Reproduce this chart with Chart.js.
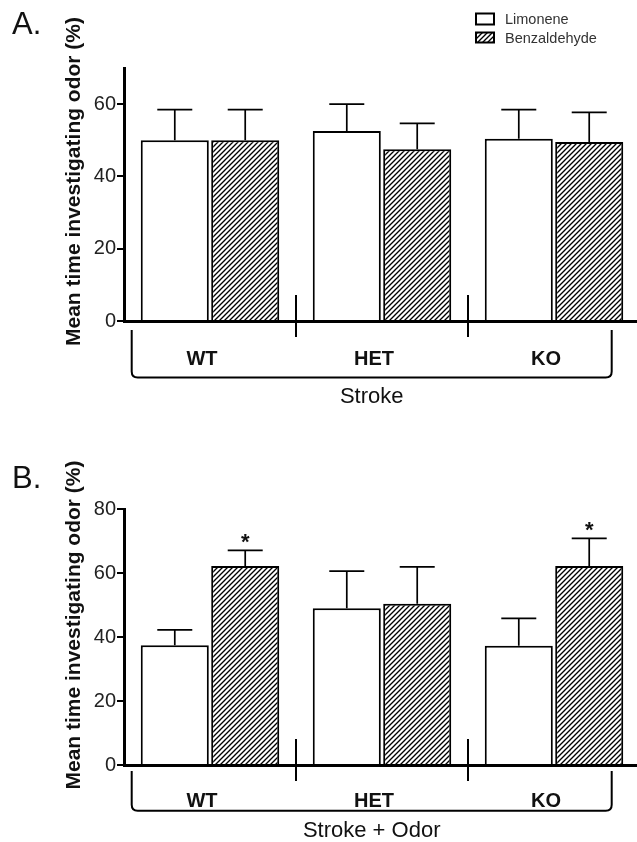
<!DOCTYPE html>
<html>
<head>
<meta charset="utf-8">
<script src="https://cdn.jsdelivr.net/npm/chart.js@4.4.1/dist/chart.umd.min.js"></script>
<style>
html, body { margin: 0; padding: 0; background: #fff; overflow: hidden; }
#wrap { position: relative; width: 637px; height: 842px; overflow: hidden; }
.painel { position: absolute; left: 0; }
#boxA { top: 0; }
#boxB { top: 420px; }
</style>
</head>
<body>
<div id="wrap">
  <div class="painel" id="boxA"><canvas id="graficoA" width="641" height="420"></canvas></div>
  <div class="painel" id="boxB"><canvas id="graficoB" width="641" height="422"></canvas></div>
</div>
<script>
var grupos = ['WT', 'HET', 'KO'];

// A. Stroke
var strokeLimonene = [50.0, 52.6, 50.4];
var strokeLimoneneErro = [8.5, 7.4, 8.1];
var strokeBenzaldehyde = [50.0, 47.5, 49.5];
var strokeBenzaldehydeErro = [8.5, 7.2, 8.2];
var strokeTicks = [0, 20, 40, 60];

// B. Stroke + Odor
var odorLimonene = [37.4, 49.0, 37.3];
var odorLimoneneErro = [4.8, 11.6, 8.5];
var odorBenzaldehyde = [62.2, 50.4, 62.2];
var odorBenzaldehydeErro = [4.9, 11.5, 8.6];
var odorBenzaldehydeSig = [true, false, true];
var odorTicks = [0, 20, 40, 60, 80];

var FONTE = '"Liberation Sans", Arial, Helvetica, sans-serif';

function hachura() {
	var s = 5;
	var c = document.createElement('canvas');
	c.width = s; c.height = s;
	var g = c.getContext('2d');
	g.fillStyle = '#fff';
	g.fillRect(0, 0, s, s);
	g.strokeStyle = '#000';
	g.lineWidth = 1.35;
	g.beginPath();
	g.moveTo(-1, s + 1); g.lineTo(s + 1, -1);
	g.moveTo(-1, 1); g.lineTo(1, -1);
	g.moveTo(s - 1, s + 1); g.lineTo(s + 1, s - 1);
	g.stroke();
	return g.createPattern(c, 'repeat');
}

function criarDecoracao(cfg) {
	return {
		id: 'decoracao',
		afterDatasetsDraw: function(chart) {
			var ctx = chart.ctx, y = chart.scales.y;
			ctx.save();
			ctx.strokeStyle = '#000';
			ctx.lineWidth = 1.7;
			chart.data.datasets.forEach(function(ds, di) {
				var meta = chart.getDatasetMeta(di);
				meta.data.forEach(function(barra, i) {
					var topo = y.getPixelForValue(ds.data[i] + ds.erro[i]);
					ctx.beginPath();
					ctx.moveTo(barra.x, barra.y);
					ctx.lineTo(barra.x, topo);
					ctx.moveTo(barra.x - 17.5, topo);
					ctx.lineTo(barra.x + 17.5, topo);
					ctx.stroke();
					if (ds.estrela && ds.estrela[i]) {
						ctx.fillStyle = '#111';
						ctx.font = 'bold 22px ' + FONTE;
						ctx.textAlign = 'center';
						ctx.textBaseline = 'alphabetic';
						ctx.fillText('*', barra.x, topo - 1);
					}
				});
			});
			ctx.restore();
		},
		afterDraw: function(chart) {
			var ctx = chart.ctx, ca = chart.chartArea, x = chart.scales.x;
			ctx.save();
			ctx.strokeStyle = '#000';
			ctx.fillStyle = '#111';

			// divisorias entre grupos
			ctx.lineWidth = 2;
			for (var i = 0; i < grupos.length - 1; i++) {
				var xd = (x.getPixelForValue(i) + x.getPixelForValue(i + 1)) / 2;
				ctx.beginPath();
				ctx.moveTo(xd, ca.bottom - 26);
				ctx.lineTo(xd, ca.bottom + 16);
				ctx.stroke();
			}

			// chave
			var L = ca.left + 7.7, R = ca.right - 28.3;
			var T = ca.bottom + cfg.chaveTopo, B = ca.bottom + cfg.chaveBase, r = 6;
			ctx.beginPath();
			ctx.moveTo(L, T);
			ctx.lineTo(L, B - r);
			ctx.quadraticCurveTo(L, B, L + r, B);
			ctx.lineTo(R - r, B);
			ctx.quadraticCurveTo(R, B, R, B - r);
			ctx.lineTo(R, T);
			ctx.stroke();

			// titulo x
			ctx.font = '22px ' + FONTE;
			ctx.textAlign = 'center';
			ctx.textBaseline = 'middle';
			ctx.fillText(cfg.tituloX, (L + R) / 2, cfg.tituloXY);

			// letra do painel
			ctx.font = '31px ' + FONTE;
			ctx.textAlign = 'left';
			ctx.textBaseline = 'alphabetic';
			ctx.fillText(cfg.letra, 12, cfg.letraY);

			// titulo y
			ctx.save();
			ctx.translate(79.5, cfg.tituloYCentro);
			ctx.rotate(-Math.PI / 2);
			ctx.font = 'bold 21px ' + FONTE;
			ctx.textAlign = 'center';
			ctx.textBaseline = 'alphabetic';
			ctx.fillText('Mean time investigating odor (%)', 0, 0);
			ctx.restore();

			// legenda
			if (cfg.legenda) {
				var ds = chart.data.datasets;
				var caixas = [[13.5, 11], [32.5, 10]];
				var textos = [19.8, 39.2];
				for (var k = 0; k < ds.length; k++) {
					ctx.fillStyle = ds[k].backgroundColor;
					ctx.fillRect(476, caixas[k][0], 18, caixas[k][1]);
					ctx.lineWidth = 2;
					ctx.strokeRect(476, caixas[k][0], 18, caixas[k][1]);
					ctx.fillStyle = '#333';
					ctx.font = '14.5px ' + FONTE;
					ctx.textAlign = 'left';
					ctx.textBaseline = 'middle';
					ctx.fillText(ds[k].label, 505, textos[k]);
				}
			}
			ctx.restore();
		}
	};
}

function desenharPainel(id, cfg) {
	var padrao = hachura();
	var ticks = cfg.ticks;
	return new Chart(document.getElementById(id), {
		type: 'bar',
		data: {
			labels: grupos,
			datasets: [
				{
					label: 'Limonene',
					data: cfg.limonene,
					erro: cfg.limoneneErro,
					backgroundColor: '#fff',
					borderColor: '#000',
					borderWidth: 2,
					categoryPercentage: 0.819,
					barPercentage: 0.966
				},
				{
					label: 'Benzaldehyde',
					data: cfg.benzaldehyde,
					erro: cfg.benzaldehydeErro,
					estrela: cfg.sig,
					backgroundColor: padrao,
					borderColor: '#000',
					borderWidth: 2,
					categoryPercentage: 0.819,
					barPercentage: 0.966
				}
			]
		},
		options: {
			responsive: false,
			animation: false,
			devicePixelRatio: 1,
			layout: { padding: { top: cfg.topo, right: 1, bottom: 0, left: 0 } },
			plugins: { legend: { display: false }, tooltip: { enabled: false } },
			scales: {
				x: {
					grid: { display: false },
					border: { display: true, color: '#000', width: 3 },
					ticks: {
						color: '#111',
						padding: cfg.padX,
						labelOffset: -8,
						font: { family: FONTE, size: 20, weight: 'bold' }
					},
					afterFit: function(s) { s.height = cfg.alturaX; }
				},
				y: {
					min: 0,
					max: cfg.max,
					afterBuildTicks: function(s) {
						s.ticks = ticks.map(function(v) { return { value: v }; });
					},
					grid: { drawOnChartArea: false, drawTicks: true, tickLength: 7, color: '#000', lineWidth: 2 },
					border: { display: true, color: '#000', width: 3 },
					ticks: {
						color: '#222',
						padding: 1,
						font: { family: FONTE, size: 20 }
					},
					afterFit: function(s) { s.width = 124; }
				}
			}
		},
		plugins: [criarDecoracao(cfg)]
	});
}

desenharPainel('graficoA', {
	limonene: strokeLimonene,
	limoneneErro: strokeLimoneneErro,
	benzaldehyde: strokeBenzaldehyde,
	benzaldehydeErro: strokeBenzaldehydeErro,
	sig: null,
	ticks: strokeTicks,
	max: 70,
	topo: 68,
	alturaX: 99,
	padX: 18,
	chaveTopo: 9,
	chaveBase: 56.5,
	tituloX: 'Stroke',
	tituloXY: 397,
	letra: 'A.',
	letraY: 33.5,
	tituloYCentro: 181.5,
	legenda: true
});

desenharPainel('graficoB', {
	limonene: odorLimonene,
	limoneneErro: odorLimoneneErro,
	benzaldehyde: odorBenzaldehyde,
	benzaldehydeErro: odorBenzaldehydeErro,
	sig: odorBenzaldehydeSig,
	ticks: odorTicks,
	max: 80,
	topo: 89,
	alturaX: 77,
	padX: 16.5,
	chaveTopo: 6,
	chaveBase: 45.7,
	tituloX: 'Stroke + Odor',
	tituloXY: 410.7,
	letra: 'B.',
	letraY: 68,
	tituloYCentro: 205,
	legenda: false
});
</script>
</body>
</html>
